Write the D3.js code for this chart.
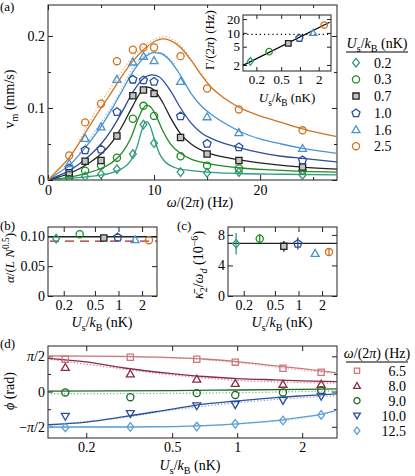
<!DOCTYPE html>
<html><head><meta charset="utf-8">
<script src="https://cdn.jsdelivr.net/npm/d3@7/dist/d3.min.js"></script>
<style>html,body{margin:0;padding:0;background:#fff;}svg{display:block}</style>
</head><body>
<svg id="fig" width="415" height="476"></svg>
<script>
// ---------------- DATA ----------------
const freqHz = [2, 3.5, 5, 6.5, 8, 9, 10, 12.5, 15, 18, 24];
const usLabels = ["0.2", "0.3", "0.7", "1.0", "1.6", "2.5"];
const usValues = [0.16, 0.32, 0.65, 0.98, 1.63, 2.45];

const vm_02 = [0.002, 0.005, 0.008, 0.015, 0.036, 0.077, 0.051, 0.011, 0.010, 0.011, 0.007];
const vm_03 = [0.004, 0.013, 0.020, 0.031, 0.085, 0.103, 0.089, 0.033, 0.020, 0.016, 0.013];
const vm_07 = [0.010, 0.026, 0.027, 0.061, 0.117, 0.125, 0.120, 0.059, 0.036, 0.027, 0.018];
const vm_10 = [0.017, 0.042, 0.043, 0.095, 0.140, 0.139, 0.137, 0.089, 0.051, 0.046, 0.028];
const vm_16 = [0.023, 0.058, 0.074, 0.140, 0.164, 0.172, 0.166, 0.137, 0.088, 0.066, 0.044];
const vm_25 = [0.034, 0.080, 0.106, 0.165, 0.181, 0.184, 0.184, 0.172, 0.127, 0.098, 0.069];

// fitted curves: [frequency Hz, v_m mm/s]
const fit_02 = [[0,0],[2,0.002],[4,0.005],[6,0.010],[7,0.016],[7.8,0.027],[8.4,0.046],[8.8,0.067],[9.1,0.079],[9.3,0.081],[9.6,0.076],[10,0.058],[10.5,0.037],[11,0.026],[12,0.017],[13.5,0.013],[15,0.011],[18,0.009],[22,0.008],[27.3,0.007]];
const fit_03 = [[0,0],[2,0.004],[3.5,0.009],[5,0.016],[6,0.024],[7,0.038],[7.8,0.058],[8.5,0.085],[9,0.100],[9.3,0.104],[9.7,0.101],[10.2,0.089],[10.8,0.069],[11.5,0.051],[12.5,0.037],[13.5,0.029],[15,0.023],[18,0.017],[21,0.014],[24,0.012],[27.3,0.011]];
const fit_07 = [[0,0],[1,0.004],[2,0.009],[3,0.016],[4,0.025],[5,0.036],[6,0.052],[7,0.075],[8,0.103],[8.8,0.123],[9.4,0.129],[10,0.125],[10.8,0.108],[11.5,0.088],[12.5,0.064],[13.5,0.050],[15,0.038],[16.5,0.032],[18,0.028],[21,0.022],[24,0.018],[27.3,0.015]];
const fit_10 = [[0,0],[1,0.006],[2,0.013],[3,0.023],[4,0.035],[5,0.050],[6,0.070],[7,0.095],[8,0.122],[9,0.141],[9.8,0.146],[10.5,0.143],[11.5,0.125],[12.5,0.100],[13.5,0.079],[14.5,0.065],[15.5,0.057],[17,0.049],[18,0.045],[20,0.038],[22,0.033],[24,0.030],[27.3,0.025]];
const fit_16 = [[0,0],[1,0.010],[2,0.020],[3,0.036],[4,0.054],[5,0.074],[6,0.098],[7,0.124],[8,0.150],[9,0.169],[10,0.177],[10.6,0.176],[11.5,0.166],[12.5,0.145],[13.5,0.120],[14.5,0.102],[15.5,0.090],[17,0.076],[18,0.068],[20,0.057],[22,0.050],[24,0.044],[27.3,0.037]];
const fit_25 = [[0,0],[1,0.015],[2,0.031],[3,0.053],[4,0.077],[5,0.100],[6,0.122],[7,0.145],[8,0.165],[9,0.181],[10,0.192],[10.8,0.196],[11.5,0.194],[12.5,0.184],[13.5,0.166],[14.5,0.145],[15.5,0.127],[16.5,0.115],[18,0.101],[20,0.089],[22,0.080],[24,0.071],[27.3,0.060]];
// faint simulation dots
const sim_16 = [[3,0.038],[5,0.080],[6.5,0.114],[8,0.156],[9,0.172],[10,0.178],[11,0.174],[12,0.160]];
const sim_25 = [[3,0.056],[5,0.108],[6.5,0.141],[8,0.171],[9,0.186],[10,0.195],[11,0.199],[12,0.193],[13,0.178],[14,0.156],[15,0.138]];

// inset: damping rate
const gammaHz = [2.4, 3.9, 5.9, 7.8, 10.1, 14.8];
const gammaFit = [[0.122, 1.96], [3.0, 17.0]];
const gammaRef = 9.3;

// (b)
const alphaVals = [0.0962, 0.1033, 0.0972, 0.0988, 0.0945, 0.0933];
const alphaLine = 0.0992;
const alphaDashed = 0.0917;

// (c)
const kappaVals = [6.84, 7.5, 6.5, 6.9, 5.6, 5.75];
const kappaErr = [1.4, 0.6, 0.7, 0.8, 0.0, 0.5];
const kappaLine = 6.9;

// (d)
const phaseFreqLabels = ["6.5", "8.0", "9.0", "10.0", "12.5"];
const ph_65 = [1.44, 1.53, 1.44, 1.31, 1.04, 0.86];
const ph_80 = [1.08, 0.79, 0.56, 0.37, 0.33, 0.33];
const ph_90 = [-0.04, -0.25, -0.07, -0.15, -0.04, 0.06];
const ph_100 = [-1.11, -0.99, -0.64, -0.59, -0.40, -0.22];
const ph_125 = [-1.60, -1.58, -1.56, -1.44, -1.29, -1.04];
const phFit_65 = [[0.133,1.59],[0.3,1.57],[0.5,1.51],[0.7,1.45],[1.0,1.33],[1.4,1.18],[2.0,1.02],[2.9,0.83]];
const phFit_80 = [[0.133,1.48],[0.2,1.32],[0.3,1.05],[0.5,0.80],[0.7,0.67],[1.0,0.58],[1.5,0.52],[2.0,0.48],[2.9,0.44]];
const phFit_90 = [[0.133,0.02],[0.5,0.04],[1.0,0.07],[2.0,0.10],[2.9,0.12]];
const phFit_100 = [[0.133,-1.48],[0.2,-1.36],[0.3,-1.12],[0.5,-0.78],[0.7,-0.56],[1.0,-0.42],[1.5,-0.27],[2.0,-0.19],[2.9,-0.10]];
const phFit_125 = [[0.133,-1.58],[0.3,-1.58],[0.5,-1.56],[0.7,-1.52],[1.0,-1.44],[1.5,-1.30],[2.0,-1.14],[2.5,-0.99],[2.9,-0.83]];
const phSim_65 = [[0.133,1.58],[0.5,1.50],[1.0,1.29],[2.0,0.95],[2.9,0.80]];
const phSim_80 = [[0.133,1.45],[0.3,1.00],[0.5,0.74],[1.0,0.50],[2.0,0.40],[2.9,0.38]];
const phSim_90 = [[0.133,-0.10],[0.5,-0.08],[1.0,-0.05],[2.0,0.0],[2.9,0.03]];
const phSim_100 = [[0.133,-1.50],[0.3,-1.15],[0.5,-0.82],[1.0,-0.50],[2.0,-0.27],[2.9,-0.18]];
const phSim_125 = [[0.133,-1.60],[0.5,-1.57],[1.0,-1.45],[2.0,-1.18],[2.9,-0.88]];

// ---------------- STYLE / HELPERS ----------------
const FONT = '"Liberation Serif","DejaVu Serif",serif';
const FS = 14;
const svg = d3.select("#fig");
const FRAME = "#222";

const usColors = ["#2f9a7e", "#1f8c24", "#222222", "#2c4f9c", "#4b93cf", "#d0721c"];
const usMarkers = ["diamond", "circle", "square", "pentagon", "triangle", "circle"];
const phColors = ["#c77a7a", "#8e2a45", "#1d6a26", "#2c4f9c", "#5d9fd4"];
const phSimColors = ["#e0aaaa", "#c08a9a", "#7fb487", "#8aa0cc", "#a8c8e8"];
const phMarkers = ["square", "triangle", "circle", "down", "diamond"];

function markerPath(type, s) {
  s = s || 1;
  if (type === "circle") return d3.symbol().type(d3.symbolCircle).size(40 * s * s)();
  let pts;
  if (type === "square") { const h = 3.1 * s; pts = [[-h,-h],[h,-h],[h,h],[-h,h]]; }
  else if (type === "diamond") { const w = 3.4 * s, h = 4.3 * s; pts = [[0,-h],[w,0],[0,h],[-w,0]]; }
  else if (type === "triangle" || type === "down") {
    const r = 4.6 * s; pts = [0,1,2].map(i => { const a = -Math.PI/2 + i*2*Math.PI/3; return [r*Math.cos(a), r*Math.sin(a) + 0.8*s]; });
    if (type === "down") pts = pts.map(p => [p[0], -p[1]]);
  } else if (type === "pentagon") {
    const r = 4.2 * s; pts = d3.range(5).map(i => { const a = -Math.PI/2 + i*2*Math.PI/5; return [r*Math.cos(a), r*Math.sin(a) + 0.4*s]; });
  }
  return "M" + pts.map(p => p[0].toFixed(2) + "," + p[1].toFixed(2)).join("L") + "Z";
}
function drawMarker(g, type, x, y, color, s) {
  g.append("path").attr("d", markerPath(type, s))
    .attr("transform", `translate(${x},${y})`)
    .attr("fill", type === "square" && color === "#222222" ? "#c4c4c4" : "none")
    .attr("stroke", color).attr("stroke-width", 1.3);
}
function rich(g, x, y, parts, opt) {
  opt = opt || {};
  const fs = opt.fs || FS;
  const t = g.append("text").attr("x", x).attr("y", y)
    .attr("font-family", FONT).attr("font-size", fs)
    .attr("text-anchor", opt.anchor || "start").attr("fill", "#000");
  let shift = 0;
  parts.forEach(p => {
    const ts = t.append("tspan").text(p.t);
    const target = p.sub ? fs * 0.28 : p.sup ? -fs * 0.38 : 0;
    if (target - shift !== 0) ts.attr("dy", target - shift);
    shift = target;
    if (p.sub || p.sup) ts.attr("font-size", fs * 0.72);
    if (p.i) ts.attr("font-style", "italic");
  });
  return t;
}
function richRot(x, y, parts, opt) {
  const g = svg.append("g").attr("transform", `translate(${x},${y}) rotate(-90)`);
  return rich(g, 0, 0, parts, Object.assign({anchor: "middle"}, opt || {}));
}
function frame(box) {
  svg.append("rect").attr("x", box.l).attr("y", box.t).attr("width", box.r - box.l).attr("height", box.b - box.t)
    .attr("fill", "none").attr("stroke", FRAME).attr("stroke-width", 1);
}
function tickAxis(axisFn, scale, vals, size, tx, fmt, fs) {
  const a = axisFn(scale).tickValues(vals).tickSize(-size).tickPadding(3).tickFormat(fmt || "");
  const g = svg.append("g").attr("transform", tx).call(a);
  g.select(".domain").remove();
  g.selectAll("line").attr("stroke", FRAME).attr("stroke-width", 1);
  g.selectAll("text").attr("font-family", FONT).attr("font-size", fs || FS).attr("fill", "#000");
  return g;
}
function boxAxes(box, x, y, xMaj, xMin, yMaj, yMin, xFmt, yFmt, fs, xPad, yPad) {
  const gx = tickAxis(d3.axisBottom, x, xMaj, 5, `translate(0,${box.b})`, xFmt, fs);
  gx.selectAll("text").attr("dy", null).attr("y", xPad);
  tickAxis(d3.axisBottom, x, xMin, 3, `translate(0,${box.b})`);
  tickAxis(d3.axisTop, x, xMaj, 5, `translate(0,${box.t})`);
  tickAxis(d3.axisTop, x, xMin, 3, `translate(0,${box.t})`);
  const gy = tickAxis(d3.axisLeft, y, yMaj, 5, `translate(${box.l},0)`, yFmt, fs);
  gy.selectAll("text").attr("x", -yPad);
  tickAxis(d3.axisLeft, y, yMin, 3, `translate(${box.l},0)`);
  tickAxis(d3.axisRight, y, yMaj, 5, `translate(${box.r},0)`);
  tickAxis(d3.axisRight, y, yMin, 3, `translate(${box.r},0)`);
  frame(box);
}
function clip(id, box) {
  svg.append("clipPath").attr("id", id).append("rect")
    .attr("x", box.l).attr("y", box.t).attr("width", box.r - box.l).attr("height", box.b - box.t);
  return `url(#${id})`;
}
function panelLabel(x, y, s) {
  svg.append("text").attr("x", x).attr("y", y).attr("font-family", FONT).attr("font-size", 13).text(s);
}
const usLabelParts = [{t:"U",i:1},{t:"s",sub:1},{t:"/"},{t:"k",i:1},{t:"B",sub:1},{t:" (nK)"}];
const omegaParts = [{t:"ω",i:1},{t:"/(2"},{t:"π",i:1},{t:") (Hz)"}];

// ---------------- PANEL (a) ----------------
const boxA = {l: 48, r: 337, t: 5, b: 180};
const xA = d3.scaleLinear().domain([0, 27.25]).range([boxA.l, boxA.r]);
const yA = d3.scaleLinear().domain([0, 0.243]).range([boxA.b, boxA.t]);
boxAxes(boxA, xA, yA, [0, 10, 20], [5, 15, 25], [0, 0.1, 0.2], [0.05, 0.15],
  d => d3.format("d")(d), d => d === 0 ? "0" : d3.format(".1f")(d), FS, 15, 3);
const clipA = clip("clipA", boxA);
const lineA = d3.line().x(d => xA(d[0])).y(d => yA(d[1])).curve(d3.curveMonotoneX);
const gA = svg.append("g").attr("clip-path", clipA);
gA.append("path").attr("d", lineA(sim_25)).attr("fill", "none").attr("stroke", "#efb27e").attr("stroke-width", 1.4).attr("stroke-dasharray", "0.1,3.2").attr("stroke-linecap", "round");
gA.append("path").attr("d", lineA(sim_16)).attr("fill", "none").attr("stroke", "#9cc4e6").attr("stroke-width", 1.4).attr("stroke-dasharray", "0.1,3.2").attr("stroke-linecap", "round");
const fitsA = [fit_02, fit_03, fit_07, fit_10, fit_16, fit_25];
const vmA = [vm_02, vm_03, vm_07, vm_10, vm_16, vm_25];
fitsA.forEach((f, i) => {
  gA.append("path").attr("d", lineA(f)).attr("fill", "none").attr("stroke", usColors[i]).attr("stroke-width", 1.3);
});
vmA.forEach((vals, i) => {
  vals.forEach((v, j) => drawMarker(gA, usMarkers[i], xA(freqHz[j]), yA(v), usColors[i]));
});
richRot(14, 99, [{t:"v"},{t:"m",sub:1},{t:" (mm/s)"}]);
rich(svg, 200, 207, omegaParts, {anchor: "middle"});
panelLabel(0, 11, "(a)");

// legend (a)
rich(svg, 377, 48, usLabelParts, {anchor: "middle"});
svg.append("line").attr("x1", 346).attr("x2", 408).attr("y1", 52).attr("y2", 52).attr("stroke", "#000").attr("stroke-width", 1);
usLabels.forEach((lab, i) => {
  const yy = 62.7 + i * 16.7;
  drawMarker(svg, usMarkers[i], 356, yy, usColors[i]);
  svg.append("text").attr("x", 374).attr("y", yy + 5).attr("font-family", FONT).attr("font-size", FS).text(lab);
});

// inset
const boxI = {l: 243, r: 331, t: 15, b: 71};
const xI = d3.scaleLog().domain([0.122, 3.15]).range([boxI.l, boxI.r]);
const yI = d3.scaleLog().domain([1.48, 24.5]).range([boxI.b, boxI.t]);
svg.append("rect").attr("x", boxI.l).attr("y", boxI.t).attr("width", boxI.r - boxI.l).attr("height", boxI.b - boxI.t).attr("fill", "#fff");
{
  const gx = tickAxis(d3.axisBottom, xI, [0.2, 0.5, 1, 2], 4, `translate(0,${boxI.b})`, d => String(d), 13);
  gx.selectAll("text").attr("dy", null).attr("y", 13);
  tickAxis(d3.axisTop, xI, [0.2, 0.5, 1, 2], 4, `translate(0,${boxI.t})`);
  const gy = tickAxis(d3.axisLeft, yI, [2, 5, 10, 20], 4, `translate(${boxI.l},0)`, d => String(d), 13);
  gy.selectAll("text").attr("x", -3);
  tickAxis(d3.axisRight, yI, [2, 5, 10, 20], 4, `translate(${boxI.r},0)`);
  frame(boxI);
}
svg.append("line").attr("x1", boxI.l).attr("x2", boxI.r).attr("y1", yI(gammaRef)).attr("y2", yI(gammaRef))
  .attr("stroke", "#000").attr("stroke-width", 1.2).attr("stroke-dasharray", "1.2,3");
const lineI = d3.line().x(d => xI(d[0])).y(d => yI(d[1]));
svg.append("path").attr("d", lineI(gammaFit)).attr("stroke", "#000").attr("stroke-width", 1.2).attr("fill", "none");
gammaHz.forEach((g, i) => drawMarker(svg, usMarkers[i], xI(usValues[i]), yI(g), usColors[i], 0.9));
richRot(214, 40, [{t:"Γ/(2"},{t:"π",i:1},{t:") (Hz)"}], {fs: 13});
rich(svg, 287, 102, usLabelParts, {anchor: "middle", fs: 13});

// ---------------- PANEL (b) ----------------
const boxB = {l: 48, r: 157, t: 227, b: 296};
const xB = d3.scaleLog().domain([0.126, 3.1]).range([boxB.l, boxB.r]);
const yB = d3.scaleLinear().domain([0, 0.1155]).range([boxB.b, boxB.t]);
boxAxes(boxB, xB, yB, [0.2, 0.5, 1, 2], [], [0, 0.05, 0.1], [],
  d => String(d), d => d === 0 ? "0" : d3.format(".2f")(d), FS, 14, 3);
svg.append("line").attr("x1", boxB.l).attr("x2", boxB.r).attr("y1", yB(alphaLine)).attr("y2", yB(alphaLine)).attr("stroke", "#222").attr("stroke-width", 1.3);
svg.append("line").attr("x1", boxB.l + 2).attr("x2", boxB.r).attr("y1", yB(alphaDashed)).attr("y2", yB(alphaDashed)).attr("stroke", "#a3282c").attr("stroke-width", 1.3).attr("stroke-dasharray", "9,6");
alphaVals.forEach((a, i) => drawMarker(svg, usMarkers[i], xB(usValues[i]), yB(a), usColors[i]));
richRot(14, 258, [{t:"α",i:1},{t:"/("},{t:"L",i:1},{t:" "},{t:"N",i:1},{t:"0.5",sup:1},{t:")"}], {fs: 13});
rich(svg, 102, 327, usLabelParts, {anchor: "middle"});
panelLabel(0, 230, "(b)");

// ---------------- PANEL (c) ----------------
const boxC = {l: 228, r: 337, t: 227, b: 296};
const xC = d3.scaleLog().domain([0.126, 3.1]).range([boxC.l, boxC.r]);
const yC = d3.scaleLinear().domain([0, 9.03]).range([boxC.b, boxC.t]);
boxAxes(boxC, xC, yC, [0.2, 0.5, 1, 2], [], [0, 4, 8], [],
  d => String(d), d => String(d), FS, 14, 3);
svg.append("line").attr("x1", boxC.l).attr("x2", boxC.r).attr("y1", yC(kappaLine)).attr("y2", yC(kappaLine)).attr("stroke", "#222").attr("stroke-width", 1.3);
kappaVals.forEach((k, i) => {
  if (kappaErr[i] > 0)
    svg.append("line").attr("x1", xC(usValues[i])).attr("x2", xC(usValues[i]))
      .attr("y1", yC(k - kappaErr[i])).attr("y2", yC(k + kappaErr[i])).attr("stroke", usColors[i]).attr("stroke-width", 1.3);
  drawMarker(svg, usMarkers[i], xC(usValues[i]), yC(k), usColors[i]);
});
richRot(203, 265, [{t:"κ\u0304",i:1},{t:"2",sub:1},{t:"/"},{t:"ω",i:1},{t:"d",sub:1,i:1},{t:" (10"},{t:"−6",sup:1},{t:")"}]);
rich(svg, 282, 327, usLabelParts, {anchor: "middle"});
panelLabel(177, 230, "(c)");

// ---------------- PANEL (d) ----------------
const boxD = {l: 48, r: 337, t: 346, b: 438};
const xD = d3.scaleLog().domain([0.133, 2.9]).range([boxD.l, boxD.r]);
const yD = d3.scaleLinear().domain([-2.07, 2.03]).range([boxD.b, boxD.t]);
boxAxes(boxD, xD, yD, [0.2, 0.5, 1, 2], [], [-Math.PI/2, 0, Math.PI/2], [-Math.PI/4, Math.PI/4],
  d => String(d), () => "", FS, 14, 3);
[[Math.PI/2, [{t:"π",i:1},{t:"/2"}]], [0, [{t:"0"}]], [-Math.PI/2, [{t:"−"},{t:"π",i:1},{t:"/2"}]]].forEach(([v, parts]) => {
  rich(svg, boxD.l - 3, yD(v) + 5, parts, {anchor: "end"});
});
const clipD = clip("clipD", boxD);
const gD = svg.append("g").attr("clip-path", clipD);
const lineD = d3.line().x(d => xD(d[0])).y(d => yD(d[1])).curve(d3.curveMonotoneX);
const phSims = [phSim_65, phSim_80, phSim_90, phSim_100, phSim_125];
const phFits = [phFit_65, phFit_80, phFit_90, phFit_100, phFit_125];
const phVals = [ph_65, ph_80, ph_90, ph_100, ph_125];
phSims.forEach((s, i) => gD.append("path").attr("d", lineD(s)).attr("fill", "none").attr("stroke", phSimColors[i]).attr("stroke-width", 1.4).attr("stroke-dasharray", "0.1,3.2").attr("stroke-linecap", "round"));
phFits.forEach((s, i) => gD.append("path").attr("d", lineD(s)).attr("fill", "none").attr("stroke", phColors[i]).attr("stroke-width", 1.3));
phVals.forEach((vals, i) => vals.forEach((v, j) => drawMarker(gD, phMarkers[i], xD(usValues[j]), yD(v), phColors[i])));
richRot(14, 391, [{t:"ϕ",i:1},{t:" (rad)"}]);
rich(svg, 190, 470, usLabelParts, {anchor: "middle"});
panelLabel(0, 348, "(d)");

// legend (d)
rich(svg, 377, 358, omegaParts, {anchor: "middle"});
svg.append("line").attr("x1", 346).attr("x2", 408).attr("y1", 362).attr("y2", 362).attr("stroke", "#000").attr("stroke-width", 1);
phaseFreqLabels.forEach((lab, i) => {
  const yy = 370.7 + i * 15;
  drawMarker(svg, phMarkers[i], 357, yy, phColors[i], 0.85);
  svg.append("text").attr("x", 406).attr("y", yy + 5).attr("text-anchor", "end").attr("font-family", FONT).attr("font-size", FS).text(lab);
});
</script>
</body></html>
